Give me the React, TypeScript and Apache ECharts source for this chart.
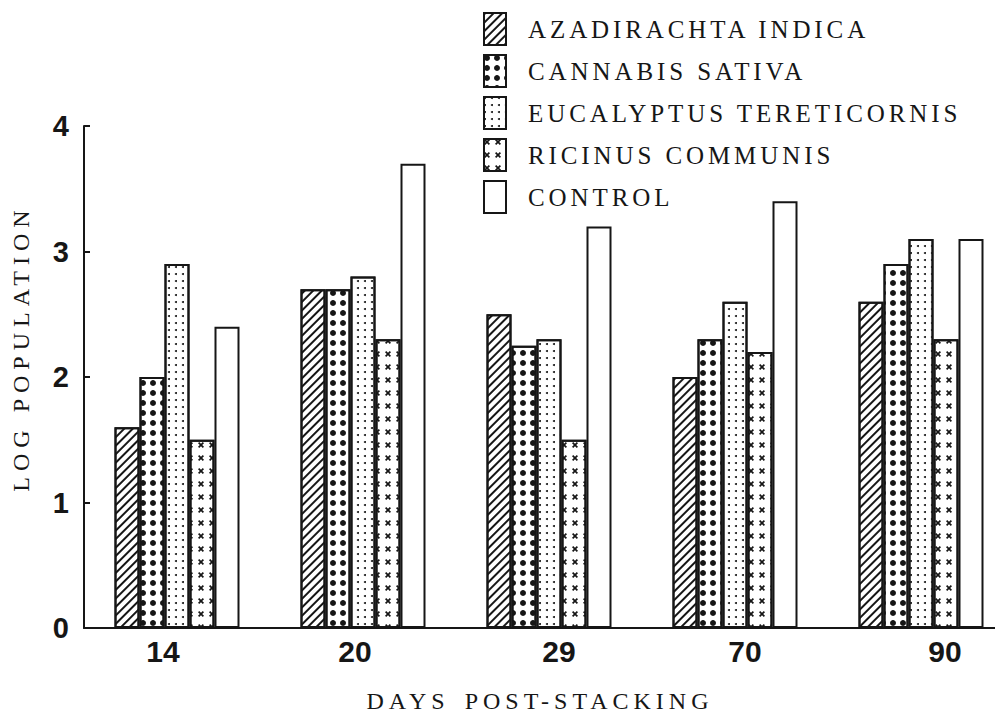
import React, { useEffect, useRef } from 'react';
import * as echarts from 'echarts';

// ---------- data ----------
const categories = ['14', '20', '29', '70', '90'];
const seriesNames = [
  'AZADIRACHTA INDICA',
  'CANNABIS SATIVA',
  'EUCALYPTUS TERETICORNIS',
  'RICINUS COMMUNIS',
  'CONTROL',
];
const azadirachta = [1.6, 2.7, 2.5, 2.0, 2.6];
const cannabis = [2.0, 2.7, 2.25, 2.3, 2.9];
const eucalyptus = [2.9, 2.8, 2.3, 2.6, 3.1];
const ricinus = [1.5, 2.3, 1.5, 2.2, 2.3];
const control = [2.4, 3.7, 3.2, 3.4, 3.1];
const yMin = 0;
const yMax = 4;
const yStep = 1;
const xTitle = 'DAYS POST-STACKING';
const yTitle = 'LOG POPULATION';

// ---------- styles ----------
const INK = '#161616';
const SERIF = '"Liberation Serif", "DejaVu Serif", serif';
const SANS_NARROW = '"Liberation Sans Narrow", "Liberation Sans", Arial, sans-serif';
const labelShift = [-14, -8, 10, 10, 24];

const hatch = {
  symbol: 'rect',
  symbolSize: 1,
  dashArrayX: [1, 0],
  dashArrayY: [1.5, 3.5],
  rotation: -Math.PI / 4,
  color: INK,
};
const bigDots = {
  symbol: 'circle',
  symbolSize: 1,
  dashArrayX: [6, 4],
  dashArrayY: [6, 4],
  color: INK,
};
const fineDots = {
  symbol: 'circle',
  symbolSize: 1,
  dashArrayX: [2, 5],
  dashArrayY: [2, 5],
  color: INK,
};
const crosses = {
  symbol: 'path://M0,2L2,0L5,3L8,0L10,2L7,5L10,8L8,10L5,7L2,10L0,8L3,5Z',
  symbolSize: 1,
  dashArrayX: [6, 5],
  dashArrayY: [6, 7],
  color: INK,
};

const seriesData = [azadirachta, cannabis, eucalyptus, ricinus, control];
const decals: any[] = [hatch, bigDots, fineDots, crosses, null];

const xLabelFont = {
  fontFamily: SANS_NARROW,
  fontSize: 30,
  fontWeight: 'bold' as const,
  color: INK,
};
const rich: Record<string, any> = {};
labelShift.forEach((d, i) => {
  rich['s' + i] = {
    ...xLabelFont,
    padding: d < 0 ? [0, -2 * d, 0, 0] : [0, 0, 0, 2 * d],
  };
});

export default function App() {
  const ref = useRef<HTMLDivElement>(null);

  useEffect(() => {
    if (!ref.current) return;
    const chart = echarts.init(ref.current, null, { renderer: 'svg' });

    const series = seriesNames.map((name, i) => {
      const itemStyle: any = {
        color: '#ffffff',
        borderColor: INK,
        borderWidth: 2,
      };
      if (decals[i]) itemStyle.decal = decals[i];
      return {
        name,
        type: 'bar',
        data: seriesData[i],
        barWidth: 25,
        barGap: '0%',
        itemStyle,
        emphasis: { disabled: true },
      };
    });

    chart.setOption({
      animation: false,
      backgroundColor: '#ffffff',
      grid: {
        left: 84,
        top: 126,
        width: 930,
        height: 502,
        containLabel: false,
        outerBoundsMode: 'none',
      },
      legend: {
        orient: 'vertical',
        left: 483,
        top: 12,
        padding: 0,
        itemWidth: 22,
        itemHeight: 32,
        itemGap: 8,
        icon: 'rect',
        selectedMode: false,
        data: seriesNames,
        textStyle: {
          fontFamily: SERIF,
          fontSize: 25,
          lineHeight: 20,
          color: INK,
          padding: [10, 0, 0, 17],
        },
      },
      xAxis: {
        type: 'category',
        data: categories,
        axisLine: { lineStyle: { color: INK, width: 2 } },
        axisTick: { show: false },
        splitLine: { show: false },
        axisLabel: {
          ...xLabelFont,
          interval: 0,
          margin: 8,
          formatter: (v: string, i: number) => `{s${i}|${v}}`,
          rich,
        },
      },
      yAxis: {
        type: 'value',
        min: yMin,
        max: yMax,
        interval: yStep,
        axisLine: { show: true, lineStyle: { color: INK, width: 2 } },
        axisTick: { show: true, inside: true, length: 6, lineStyle: { color: INK, width: 2 } },
        splitLine: { show: false },
        axisLabel: {
          margin: 15,
          fontFamily: SANS_NARROW,
          fontSize: 29,
          fontWeight: 'bold',
          color: INK,
        },
      },
      graphic: [
        {
          type: 'text',
          x: 21,
          y: 348,
          rotation: Math.PI / 2,
          style: {
            text: yTitle,
            font: `24px ${SERIF}`,
            fill: INK,
            align: 'center',
            verticalAlign: 'middle',
          },
        },
        {
          type: 'text',
          x: 540,
          y: 701,
          style: {
            text: xTitle,
            font: `24px ${SERIF}`,
            fill: INK,
            align: 'center',
            verticalAlign: 'middle',
          },
        },
      ],
      series,
    });

    const spacing: Record<string, number> = { [xTitle]: 5, [yTitle]: 6 };
    seriesNames.forEach((n) => (spacing[n] = 3.9));
    const applySpacing = () => {
      const root = ref.current;
      if (!root) return;
      root.querySelectorAll('text').forEach((t) => {
        const s = spacing[(t.textContent || '').trim()];
        if (s) {
          (t as SVGTextElement).style.letterSpacing = s + 'px';
          if ((t.textContent || '') === xTitle) (t as SVGTextElement).style.wordSpacing = '4px';
        }
      });
    };
    applySpacing();
    chart.on('finished', applySpacing);

    return () => {
      chart.dispose();
    };
  }, []);

  return (
    <div
      ref={ref}
      style={{ position: 'absolute', left: 0, top: 0, width: 995, height: 717, background: '#fff' }}
    />
  );
}
